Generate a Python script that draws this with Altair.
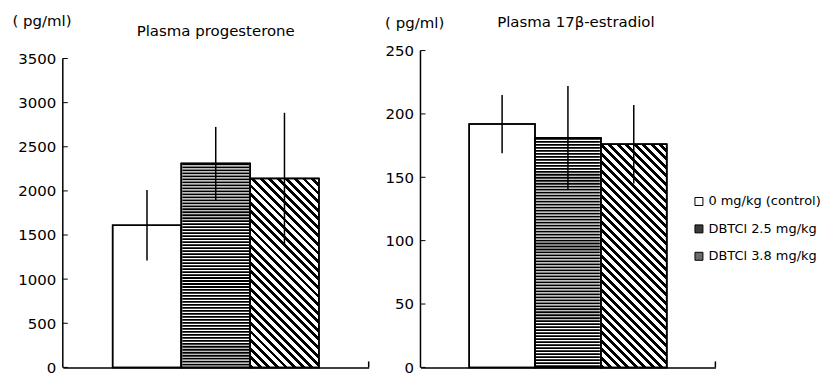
import altair as alt
import pandas as pd

groups = ["0 mg/kg (control)", "DBTCl 2.5 mg/kg", "DBTCl 3.8 mg/kg"]
prog_mean = [1610, 2310, 2140]
prog_sd = [400, 415, 745]
estr_mean = [192, 181, 176]
estr_sd = [23, 41, 31]
prog_ticks = [0, 500, 1000, 1500, 2000, 2500, 3000, 3500]
estr_ticks = [0, 50, 100, 150, 200, 250]
unit_label = "( pg/ml)"
titles = ["Plasma progesterone", "Plasma 17β-estradiol"]

FONT = "DejaVu Sans"
H = 318          # plot height of both panels
GAP = 8          # the left axis stops this far below the top of its panel


def stripe_stops(n, dark):
    stops = []
    for i in range(n):
        a = i / n
        b = (i + dark) / n
        c = (i + 1) / n
        stops += [
            {"offset": a, "color": "black"},
            {"offset": b, "color": "black"},
            {"offset": b, "color": "white"},
            {"offset": c, "color": "white"},
        ]
    return stops


def dstripes(w, h, period=8.5, dark=0.45):
    k = (w + h) / (w * w + h * h)
    n = max(1, int(round((w + h) / period)))
    return {"gradient": "linear", "x1": 0, "y1": 1, "x2": k * w, "y2": 1 - k * h,
            "stops": stripe_stops(n, dark)}


def panel(title, means, sds, ticks, top_gap, width, pad_outer,
          unit_x, unit_y, title_dx, title_offset):
    df = pd.DataFrame({
        "group": groups,
        "mean": means,
        "lo": [m - s for m, s in zip(means, sds)],
        "hi": [m + s for m, s in zip(means, sds)],
    })
    ymax = ticks[-1]
    dom_max = ymax * H / (H - top_gap)
    xscale = alt.Scale(domain=groups, paddingInner=0, paddingOuter=pad_outer)
    yscale = alt.Scale(domain=[0, dom_max], nice=False, zero=True)
    base = alt.Chart(df)
    xenc = alt.X("group:N", sort=groups, scale=xscale,
                 axis=alt.Axis(labels=False, ticks=False, title=None,
                               domainColor="black", domainWidth=1.5))
    yaxis = alt.Axis(values=ticks, ticks=False, grid=False, format="d",
                     domain=False,
                     labelFont=FONT, labelFontSize=15, labelColor="black",
                     labelPadding=7,
                     title=unit_label, titleAngle=0, titleAlign="left",
                     titleBaseline="middle", titleX=unit_x, titleY=unit_y,
                     titleFont=FONT, titleFontSize=15,
                     titleFontWeight="normal", titleColor="black")

    legend = alt.Legend(title=None, orient="none",
                        legendX=632, legendY=145,
                        symbolType="square", symbolSize=64,
                        symbolStrokeColor="black",
                        symbolStrokeWidth=1,
                        labelFont=FONT, labelFontSize=13,
                        labelColor="black", labelOffset=3,
                        rowPadding=13.5)

    bars = base.mark_bar(stroke="black", strokeWidth=1.5).encode(
        x=xenc,
        y=alt.Y("mean:Q", scale=yscale, axis=yaxis),
        fill=alt.Fill("group:N", sort=groups,
                      scale=alt.Scale(domain=groups,
                                      range=["white", "#3a3a3a", "#6a6a6a"]),
                      legend=legend),
    )

    bw = width / (3 + 2 * pad_outer)
    h3 = means[2] / dom_max * H

    # horizontal hatching for the 2.5 mg/kg bar: a dashed vertical stroke as wide as the bar
    white2 = base.transform_filter(alt.datum.group == groups[1]).mark_bar(
        fill="white", stroke="black", strokeWidth=1.5
    ).encode(x=alt.X("group:N", sort=groups), y=alt.Y("mean:Q"))
    hatch2 = base.transform_filter(alt.datum.group == groups[1]).mark_rule(
        color="black", strokeWidth=bw - 2, strokeDash=[1.8, 1.2], strokeCap="butt"
    ).encode(x=alt.X("group:N", sort=groups), y=alt.Y("mean:Q"), y2=alt.datum(0))

    over3 = base.transform_filter(alt.datum.group == groups[2]).mark_bar(
        fill=dstripes(bw, h3), stroke="black", strokeWidth=1.5
    ).encode(x=alt.X("group:N", sort=groups), y=alt.Y("mean:Q"))

    outline = base.mark_bar(fillOpacity=0, stroke="black", strokeWidth=1.5).encode(
        x=alt.X("group:N", sort=groups), y=alt.Y("mean:Q"))

    err = base.mark_rule(color="black", strokeWidth=1.5).encode(
        x=alt.X("group:N", sort=groups),
        y=alt.Y("lo:Q"), y2="hi:Q")

    # y axis line from 0 to the top tick, with short inward ticks
    axis_line = alt.Chart(pd.DataFrame({"a": [0]})).mark_rule(
        color="black", strokeWidth=1.5).encode(
        x=alt.value(0), y=alt.datum(0), y2=alt.datum(ymax))
    tick_df = pd.DataFrame({"v": ticks})
    tick_rules = alt.Chart(tick_df).mark_rule(color="black", strokeWidth=1).encode(
        x=alt.value(0), x2=alt.value(5), y=alt.Y("v:Q"))

    end_tick = alt.Chart(pd.DataFrame({"a": [0]})).mark_rule(
        color="black", strokeWidth=1.5).encode(
        x=alt.value(width), y=alt.value(H), y2=alt.value(H - 6))

    return alt.layer(bars, white2, hatch2, over3, outline, err, axis_line,
                     tick_rules, end_tick).properties(
        width=width, height=H,
        title=alt.TitleParams(title, font=FONT, fontSize=15, fontWeight="normal",
                              color="black", anchor="middle", dx=title_dx,
                              offset=title_offset),
    )


left = panel(titles[0], prog_mean, prog_sd, prog_ticks, GAP, 307, 0.725,
             -51, GAP - 38, 0, -25)
right = panel(titles[1], estr_mean, estr_sd, estr_ticks, 0, 296, 0.74,
              -36, -28, 8, -14)

chart = alt.hconcat(left, right, spacing=15).properties(
    padding={"left": 4, "top": 5, "right": 0, "bottom": -8},
    background="white",
).configure_view(stroke=None)

chart.save("out.html", embed_options={"renderer": "svg", "actions": False})
